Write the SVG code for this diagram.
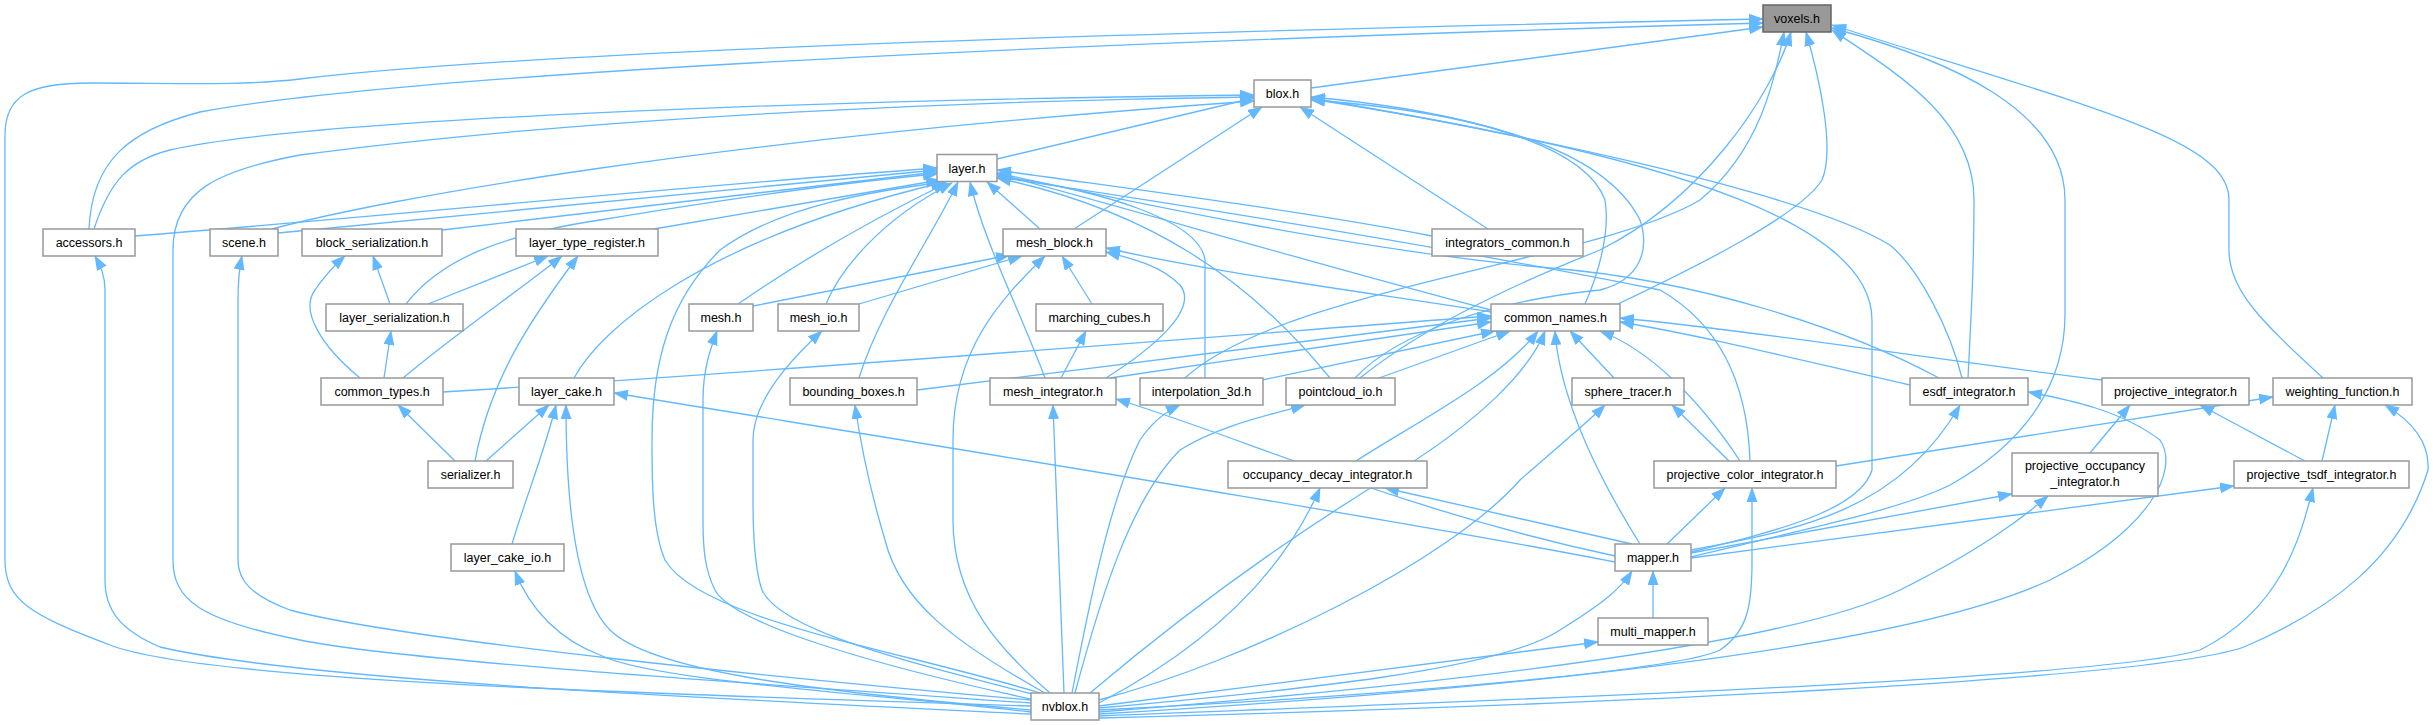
<svg xmlns="http://www.w3.org/2000/svg" width="2433" height="725" viewBox="0 0 2433 725">
<style>
.n rect{fill:#fff;stroke:#999;stroke-width:1.5}
.root rect{fill:#999;stroke:#666}
text{font-family:"Liberation Sans",Arial,sans-serif;font-size:12.5px;text-anchor:middle;fill:#000}
#edges path{fill:none;stroke:#63b8ff;stroke-width:1.3;marker-end:url(#a)}
</style>
<defs>
<marker id="a" markerWidth="15" markerHeight="11" refX="14" refY="5.5" orient="auto" markerUnits="userSpaceOnUse"><path d="M0,0 L15,5.5 L0,11 z" fill="#63b8ff"/></marker>
</defs>
<rect width="2433" height="725" fill="#fff"/>
<g id="edges">
<path d="M1031,706 C600,692 200,680 110,645 C30,615 5,600 5,560 L5,135 C5,95 30,83 90,83 C180,83 240,86 300,79 C500,55 1000,35 1763,19"/>
<path d="M89,229 C92,160 130,130 200,112 C400,75 1000,45 1763,23"/>
<path d="M94,229 C110,180 130,160 170,150 C300,120 800,100 1254,95"/>
<path d="M1031,703 C700,680 400,660 300,640 C200,620 173,600 173,560 L173,250 C173,190 220,170 300,155 C600,115 1000,100 1254,97"/>
<path d="M1311,88 L1763,27"/>
<path d="M1618,304 C1700,265 1800,215 1822,180 C1835,150 1820,80 1806,32"/>
<path d="M1185,378 C1280,290 1600,260 1700,200 C1760,150 1775,80 1784,32"/>
<path d="M1360,378 C1420,330 1500,290 1600,250 C1700,200 1770,100 1791,32"/>
<path d="M1968,378 C1972,300 1974,260 1974,200 C1974,120 1900,75 1832,30"/>
<path d="M1691,557 C1800,530 1900,510 1950,485 C2030,440 2065,380 2065,314 L2065,200 C2065,110 1950,60 1832,28"/>
<path d="M2323,378 C2260,320 2229,290 2229,250 L2229,200 C2229,140 2100,110 1832,25"/>
<path d="M997,159 L1254,98"/>
<path d="M272,229 C380,200 700,140 1254,101"/>
<path d="M1074,229 L1262,107"/>
<path d="M1488,229 L1300,107"/>
<path d="M1585,304 C1600,270 1610,230 1605,200 C1580,130 1400,105 1311,97"/>
<path d="M1691,552 C1780,530 1860,510 1872,470 L1872,320 C1872,230 1700,160 1311,99"/>
<path d="M1962,378 C1950,330 1920,270 1890,245 C1800,190 1500,130 1311,98"/>
<path d="M1355,378 C1400,330 1500,300 1600,290 C1640,280 1650,250 1640,220 C1600,140 1450,110 1311,100"/>
<path d="M135,236 C400,215 700,185 937,168"/>
<path d="M278,233 L937,170"/>
<path d="M442,230 L937,172"/>
<path d="M406,304 C440,260 500,235 600,220 C750,195 870,180 937,174"/>
<path d="M654,229 L940,180"/>
<path d="M574,378 C600,330 700,240 945,182"/>
<path d="M1040,693 C900,650 700,620 665,560 C652,530 652,480 652,440 C652,360 670,300 720,250 C780,205 880,190 945,182"/>
<path d="M1040,229 L987,182"/>
<path d="M738,304 C780,275 850,230 947,183"/>
<path d="M826,304 C840,270 880,220 952,183"/>
<path d="M859,378 C880,310 930,240 958,182"/>
<path d="M1045,378 C1020,310 985,245 970,182"/>
<path d="M1491,310 C1300,260 1100,200 997,174"/>
<path d="M1205,378 L1205,260 C1200,220 1100,190 997,176"/>
<path d="M1330,378 C1250,280 1150,210 997,178"/>
<path d="M1939,378 C1850,330 1700,280 1550,268 C1350,250 1100,195 997,173"/>
<path d="M1750,461 C1748,400 1730,330 1660,290 C1560,270 1350,230 997,177"/>
<path d="M1432,236 C1300,210 1100,185 997,170"/>
<path d="M428,304 L548,256"/>
<path d="M403,378 C460,330 520,290 562,256"/>
<path d="M475,461 C490,380 530,320 578,256"/>
<path d="M390,304 L373,256"/>
<path d="M360,378 C320,345 300,310 315,290 C325,275 335,265 345,256"/>
<path d="M384,378 L391,331"/>
<path d="M455,461 L398,405"/>
<path d="M486,461 L549,405"/>
<path d="M512,544 C525,500 545,450 556,405"/>
<path d="M1031,710 C800,690 650,670 610,630 C580,600 566,520 566,405"/>
<path d="M1615,562 C1400,520 900,440 614,393"/>
<path d="M1031,712 C850,692 650,680 600,655 C560,640 530,610 515,571"/>
<path d="M1031,714 C700,698 300,680 160,647 C120,630 105,610 105,580 L105,290 C105,275 100,265 95,256"/>
<path d="M1031,700 C800,680 400,640 290,610 C250,595 238,580 238,560 L238,300 C238,280 240,265 242,256"/>
<path d="M753,306 L1010,255"/>
<path d="M859,304 L1022,256"/>
<path d="M1092,304 L1062,256"/>
<path d="M1106,378 C1150,350 1200,310 1180,285 C1160,265 1130,258 1106,252"/>
<path d="M1050,693 C1000,650 953,600 953,520 L953,440 C953,350 1000,300 1045,256"/>
<path d="M1491,312 C1350,290 1200,270 1106,248"/>
<path d="M1061,378 L1086,331"/>
<path d="M1035,700 C850,660 730,620 715,590 C705,570 703,550 703,520 L703,400 C703,370 710,350 717,331"/>
<path d="M1040,696 C900,660 780,630 762,590 C755,570 753,540 753,500 L753,440 C753,400 790,360 822,331"/>
<path d="M1045,693 C950,640 900,600 885,540 C870,490 860,440 855,405"/>
<path d="M1064,693 L1053,405"/>
<path d="M1072,693 C1090,600 1110,500 1140,440 C1150,425 1165,412 1180,405"/>
<path d="M1075,693 C1100,600 1130,500 1180,450 C1220,425 1270,415 1305,405"/>
<path d="M1099,700 C1250,660 1450,560 1520,480 C1560,445 1590,420 1605,405"/>
<path d="M1099,703 C1200,650 1280,580 1320,488"/>
<path d="M1090,693 C1200,600 1300,530 1400,470 C1480,420 1530,370 1545,331"/>
<path d="M1099,710 C1400,695 1680,670 1720,650 C1750,630 1752,600 1752,560 L1752,488"/>
<path d="M1099,712 C1500,680 1800,640 1900,590 C1980,550 2020,520 2048,496"/>
<path d="M1099,714 C1500,690 1900,650 2050,580 C2150,530 2180,470 2160,440 C2120,410 2070,400 2028,392"/>
<path d="M1099,716 C1500,700 2100,680 2200,650 C2280,610 2300,540 2313,488"/>
<path d="M1099,718 C1600,705 2150,680 2244,647 C2330,610 2400,560 2428,470 C2430,440 2410,420 2385,405"/>
<path d="M1099,706 L1598,642"/>
<path d="M1099,708 C1300,690 1500,670 1560,630 C1600,605 1620,590 1632,571"/>
<path d="M1653,618 L1653,571"/>
<path d="M1632,544 L1385,488"/>
<path d="M1667,544 L1725,488"/>
<path d="M1691,553 L2012,494"/>
<path d="M1691,558 L2234,486"/>
<path d="M1691,550 C1800,530 1900,510 1960,405"/>
<path d="M1615,556 C1400,510 1250,440 1116,399"/>
<path d="M1640,544 C1600,480 1560,400 1555,331"/>
<path d="M443,392 C800,370 1300,330 1491,316"/>
<path d="M917,390 L1491,318"/>
<path d="M1110,378 L1491,322"/>
<path d="M1262,380 L1495,331"/>
<path d="M1379,378 L1510,331"/>
<path d="M1614,378 L1570,331"/>
<path d="M1356,461 C1420,420 1500,380 1538,331"/>
<path d="M1740,461 C1700,400 1650,350 1600,331"/>
<path d="M1910,385 C1800,360 1700,335 1620,322"/>
<path d="M2102,380 C1900,355 1750,330 1620,318"/>
<path d="M2090,453 L2130,405"/>
<path d="M2305,461 L2200,405"/>
<path d="M2322,461 L2335,405"/>
<path d="M1836,466 L2273,397"/>
<path d="M1729,461 L1672,405"/>
</g>
<g id="voxels" class="n root"><rect x="1763" y="5" width="68" height="27"/><text x="1797" y="23">voxels.h</text></g>
<g id="blox" class="n"><rect x="1254" y="80" width="57" height="27"/><text x="1282.5" y="98">blox.h</text></g>
<g id="layer" class="n"><rect x="937" y="154.5" width="60" height="27"/><text x="967" y="172.5">layer.h</text></g>
<g id="accessors" class="n"><rect x="43" y="229" width="92" height="27"/><text x="89" y="247">accessors.h</text></g>
<g id="scene" class="n"><rect x="210" y="229" width="68" height="27"/><text x="244" y="247">scene.h</text></g>
<g id="block_serialization" class="n"><rect x="302" y="229" width="140" height="27"/><text x="372" y="247">block_serialization.h</text></g>
<g id="layer_type_register" class="n"><rect x="516" y="229" width="142" height="27"/><text x="587" y="247">layer_type_register.h</text></g>
<g id="mesh_block" class="n"><rect x="1003" y="229" width="103" height="27"/><text x="1054.5" y="247">mesh_block.h</text></g>
<g id="integrators_common" class="n"><rect x="1432" y="229" width="151" height="27"/><text x="1507.5" y="247">integrators_common.h</text></g>
<g id="layer_serialization" class="n"><rect x="326" y="304" width="137" height="27"/><text x="394.5" y="322">layer_serialization.h</text></g>
<g id="mesh" class="n"><rect x="689" y="304" width="64" height="27"/><text x="721" y="322">mesh.h</text></g>
<g id="mesh_io" class="n"><rect x="778" y="304" width="81" height="27"/><text x="818.5" y="322">mesh_io.h</text></g>
<g id="marching_cubes" class="n"><rect x="1036" y="304" width="127" height="27"/><text x="1099.5" y="322">marching_cubes.h</text></g>
<g id="common_names" class="n"><rect x="1491" y="304" width="129" height="27"/><text x="1555.5" y="322">common_names.h</text></g>
<g id="common_types" class="n"><rect x="321" y="378" width="122" height="27"/><text x="382" y="396">common_types.h</text></g>
<g id="layer_cake" class="n"><rect x="519" y="378" width="95" height="27"/><text x="566.5" y="396">layer_cake.h</text></g>
<g id="bounding_boxes" class="n"><rect x="790" y="378" width="127" height="27"/><text x="853.5" y="396">bounding_boxes.h</text></g>
<g id="mesh_integrator" class="n"><rect x="990" y="378" width="126" height="27"/><text x="1053" y="396">mesh_integrator.h</text></g>
<g id="interpolation_3d" class="n"><rect x="1140" y="378" width="123" height="27"/><text x="1201.5" y="396">interpolation_3d.h</text></g>
<g id="pointcloud_io" class="n"><rect x="1286" y="378" width="109" height="27"/><text x="1340.5" y="396">pointcloud_io.h</text></g>
<g id="sphere_tracer" class="n"><rect x="1572" y="378" width="112" height="27"/><text x="1628" y="396">sphere_tracer.h</text></g>
<g id="esdf_integrator" class="n"><rect x="1910" y="378" width="118" height="27"/><text x="1969" y="396">esdf_integrator.h</text></g>
<g id="projective_integrator" class="n"><rect x="2102" y="378" width="147" height="27"/><text x="2175.5" y="396">projective_integrator.h</text></g>
<g id="weighting_function" class="n"><rect x="2273" y="378" width="139" height="27"/><text x="2342.5" y="396">weighting_function.h</text></g>
<g id="serializer" class="n"><rect x="428" y="461" width="85" height="27"/><text x="470.5" y="479">serializer.h</text></g>
<g id="occupancy_decay_integrator" class="n"><rect x="1228" y="461" width="199" height="27"/><text x="1327.5" y="479">occupancy_decay_integrator.h</text></g>
<g id="projective_color_integrator" class="n"><rect x="1654" y="461" width="182" height="27"/><text x="1745" y="479">projective_color_integrator.h</text></g>
<g id="projective_occupancy_integrator" class="n"><rect x="2012" y="453" width="146" height="43"/><text x="2085" y="470">projective_occupancy</text><text x="2085" y="486">_integrator.h</text></g>
<g id="projective_tsdf_integrator" class="n"><rect x="2234" y="461" width="175" height="27"/><text x="2321.5" y="479">projective_tsdf_integrator.h</text></g>
<g id="layer_cake_io" class="n"><rect x="451" y="544" width="113" height="27"/><text x="507.5" y="562">layer_cake_io.h</text></g>
<g id="mapper" class="n"><rect x="1615" y="544" width="76" height="27"/><text x="1653" y="562">mapper.h</text></g>
<g id="multi_mapper" class="n"><rect x="1598" y="618" width="110" height="27"/><text x="1653" y="636">multi_mapper.h</text></g>
<g id="nvblox" class="n"><rect x="1031" y="693" width="68" height="27"/><text x="1065" y="711">nvblox.h</text></g>
</svg>
